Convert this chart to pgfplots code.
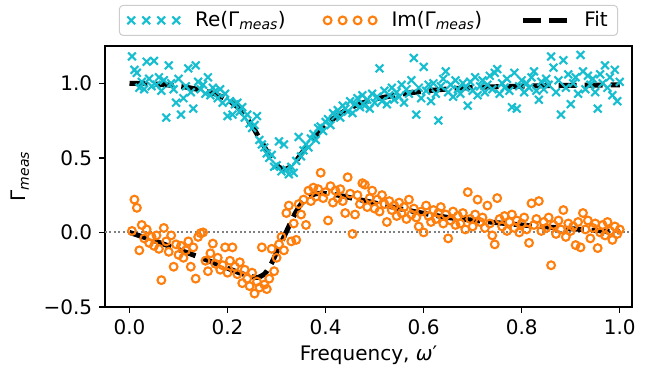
\documentclass[border=0pt]{standalone}
\usepackage{fontspec}
\setmainfont{DejaVu Sans}
\usepackage{pgfplots}
\usepackage{pgfplotstable}
\pgfplotsset{compat=1.18}
\definecolor{tabcyan}{HTML}{17BECF}
\definecolor{taborange}{HTML}{FF7F0E}

\pgfplotstableread{
x y
0.005 1.18
0.010 1.09
0.015 1.07
0.020 0.97
0.025 1.01
0.030 0.96
0.035 1.145
0.040 1.03
0.045 0.98
0.050 1.15
0.055 0.99
0.060 1.04
0.065 0.95
0.070 1.02
0.075 0.77
0.080 1.12
0.085 1.00
0.090 0.96
0.095 0.87
0.100 1.03
0.105 0.79
0.110 0.90
0.115 0.98
0.120 1.10
0.125 0.94
0.130 0.83
0.135 1.12
0.140 1.01
0.145 0.96
0.150 0.99
0.155 0.93
0.160 1.04
0.165 0.92
0.170 0.97
0.175 0.95
0.180 0.90
0.185 0.96
0.190 0.87
0.195 0.93
0.200 0.78
0.205 0.88
0.210 0.79
0.215 0.86
0.220 0.87
0.225 0.81
0.230 0.84
0.235 0.77
0.240 0.79
0.245 0.73
0.250 0.70
0.255 0.72
0.260 0.78
0.265 0.62
0.270 0.59
0.275 0.57
0.280 0.53
0.285 0.50
0.290 0.52
0.295 0.44
0.300 0.45
0.305 0.61
0.310 0.41
0.315 0.59
0.320 0.42
0.325 0.39
0.330 0.44
0.335 0.40
0.340 0.48
0.345 0.64
0.350 0.51
0.355 0.55
0.360 0.59
0.365 0.57
0.370 0.63
0.375 0.66
0.380 0.62
0.385 0.70
0.390 0.71
0.395 0.68
0.400 0.74
0.405 0.76
0.410 0.72
0.415 0.80
0.420 0.78
0.425 0.82
0.430 0.77
0.435 0.85
0.440 0.83
0.445 0.81
0.450 0.88
0.455 0.80
0.460 0.86
0.465 0.90
0.470 0.84
0.475 0.92
0.480 0.85
0.485 0.89
0.490 0.83
0.495 0.93
0.500 0.87
0.505 0.91
0.510 1.10
0.515 0.88
0.520 0.95
0.525 0.86
0.530 0.92
0.535 0.97
0.540 0.89
0.545 0.94
0.550 0.91
0.555 0.99
0.560 0.87
0.565 0.96
0.570 0.93
0.575 1.02
0.580 1.17
0.585 0.79
0.590 0.97
0.595 0.90
0.600 1.11
0.605 0.95
0.610 0.99
0.615 0.88
0.620 1.00
0.625 0.93
0.630 0.75
0.635 0.98
0.640 1.03
0.645 1.08
0.650 0.94
0.655 0.99
0.660 0.91
0.665 1.02
0.670 0.96
0.675 0.93
0.680 1.00
0.685 0.97
0.690 0.85
0.695 1.01
0.700 0.95
0.705 1.04
0.710 0.92
0.715 0.98
0.720 1.02
0.725 0.94
0.730 0.99
0.735 1.05
0.740 0.96
0.745 1.07
0.750 1.095
0.755 0.93
0.760 1.00
0.765 0.97
0.770 1.03
0.775 0.95
0.780 0.84
0.785 1.07
0.790 0.83
0.795 0.98
0.800 1.02
0.805 0.94
0.810 1.00
0.815 0.97
0.820 1.04
0.825 1.08
0.830 0.95
0.835 0.89
0.840 1.01
0.845 0.96
0.850 1.03
0.855 0.99
0.860 1.18
0.865 1.105
0.870 0.94
0.875 1.02
0.880 0.79
0.885 1.155
0.890 0.97
0.895 1.06
0.900 0.86
0.905 1.00
0.910 1.04
0.915 0.93
0.920 1.19
0.925 1.08
0.930 0.96
0.935 1.05
0.940 0.99
0.945 1.03
0.950 0.94
0.955 0.83
0.960 1.06
0.965 1.00
0.970 1.12
0.975 0.97
0.980 1.04
0.985 0.92
0.990 1.09
0.995 0.88
1.000 1.01
}\redata

\pgfplotstableread{
x y
0.005 0.01
0.010 0.22
0.015 0.165
0.020 -0.12
0.025 0.05
0.030 -0.04
0.035 0.02
0.040 -0.07
0.045 -0.03
0.050 -0.09
0.055 -0.02
0.060 -0.11
0.065 -0.32
0.070 0.03
0.075 -0.06
0.080 -0.13
0.085 -0.02
0.090 -0.23
0.095 -0.08
0.100 -0.15
0.105 -0.09
0.110 -0.17
0.115 -0.12
0.120 -0.06
0.125 -0.23
0.130 -0.10
0.135 -0.31
0.140 -0.03
0.145 -0.005
0.150 0.00
0.155 -0.19
0.160 -0.26
0.165 -0.14
0.170 -0.075
0.175 -0.21
0.180 -0.17
0.185 -0.25
0.190 -0.22
0.195 -0.10
0.200 -0.27
0.205 -0.19
0.210 -0.10
0.215 -0.23
0.220 -0.28
0.225 -0.20
0.230 -0.34
0.235 -0.25
0.240 -0.31
0.245 -0.36
0.250 -0.27
0.255 -0.41
0.260 -0.33
0.265 -0.37
0.270 -0.10
0.275 -0.35
0.280 -0.38
0.285 -0.31
0.290 -0.11
0.295 -0.26
0.300 -0.17
0.305 -0.08
0.310 -0.03
0.315 -0.12
0.320 0.13
0.325 0.18
0.330 -0.06
0.335 0.06
0.340 -0.05
0.345 0.19
0.350 0.12
0.355 0.22
0.360 0.05
0.365 0.28
0.370 0.21
0.375 0.30
0.380 0.24
0.385 0.29
0.390 0.40
0.395 0.23
0.400 0.27
0.405 0.08
0.410 0.31
0.415 0.20
0.420 0.28
0.425 0.23
0.430 0.29
0.435 0.21
0.440 0.13
0.445 0.37
0.450 0.26
0.455 -0.01
0.460 0.12
0.465 0.25
0.470 0.19
0.475 0.33
0.480 0.32
0.485 0.17
0.490 0.23
0.495 0.28
0.500 0.16
0.505 0.22
0.510 0.14
0.515 0.25
0.520 0.19
0.525 0.07
0.530 0.21
0.535 0.15
0.540 0.18
0.545 0.11
0.550 0.20
0.555 0.13
0.560 0.17
0.565 0.09
0.570 0.22
0.575 0.12
0.580 0.16
0.585 0.10
0.590 0.04
0.595 0.14
0.600 0.00
0.605 0.18
0.610 0.11
0.615 0.07
0.620 0.15
0.625 0.09
0.630 0.13
0.635 0.17
0.640 0.06
0.645 0.12
0.650 -0.04
0.655 0.08
0.660 0.14
0.665 0.05
0.670 0.11
0.675 0.06
0.680 0.13
0.685 0.02
0.690 0.27
0.695 0.09
0.700 0.04
0.705 0.12
0.710 0.22
0.715 0.07
0.720 0.10
0.725 0.03
0.730 0.18
0.735 0.06
0.740 -0.02
0.745 -0.08
0.750 0.23
0.755 0.09
0.760 0.04
0.765 0.11
0.770 0.01
0.775 0.07
0.780 0.12
0.785 0.03
0.790 0.08
0.795 0.00
0.800 0.06
0.805 0.10
0.810 0.02
0.815 -0.07
0.820 0.195
0.825 0.05
0.830 0.09
0.835 0.21
0.840 0.01
0.845 0.07
0.850 0.03
0.855 0.10
0.860 -0.22
0.865 0.05
0.870 -0.01
0.875 0.08
0.880 0.02
0.885 0.15
0.890 -0.03
0.895 0.06
0.900 0.01
0.905 0.04
0.910 -0.085
0.915 0.07
0.920 -0.10
0.925 0.13
0.930 0.02
0.935 0.08
0.940 -0.04
0.945 0.03
0.950 0.06
0.955 -0.105
0.960 0.00
0.965 0.05
0.970 -0.02
0.975 0.07
0.980 0.01
0.985 -0.05
0.990 0.04
0.995 -0.01
1.000 0.02
}\imdata

\pgfplotstableread{
x y
0.000 1.000
0.050 0.995
0.100 0.982
0.150 0.952
0.175 0.928
0.200 0.890
0.220 0.840
0.240 0.760
0.250 0.715
0.260 0.660
0.270 0.605
0.280 0.545
0.290 0.490
0.300 0.450
0.310 0.428
0.320 0.425
0.330 0.445
0.340 0.480
0.350 0.525
0.360 0.570
0.370 0.610
0.380 0.648
0.390 0.685
0.400 0.720
0.425 0.785
0.450 0.835
0.475 0.868
0.500 0.893
0.550 0.925
0.600 0.947
0.650 0.962
0.700 0.971
0.750 0.977
0.800 0.981
0.850 0.984
0.900 0.986
0.950 0.988
1.000 0.989
}\refit

\pgfplotstableread{
x y
0.000 0.000
0.050 -0.055
0.100 -0.115
0.150 -0.175
0.200 -0.240
0.225 -0.272
0.250 -0.297
0.262 -0.302
0.275 -0.280
0.280 -0.260
0.290 -0.205
0.300 -0.135
0.310 -0.065
0.320 0.005
0.330 0.075
0.340 0.140
0.350 0.190
0.360 0.225
0.370 0.248
0.380 0.259
0.390 0.263
0.400 0.261
0.425 0.250
0.450 0.233
0.500 0.198
0.550 0.160
0.600 0.128
0.650 0.100
0.700 0.082
0.750 0.065
0.800 0.050
0.850 0.037
0.900 0.025
0.950 0.013
1.000 0.003
}\imfit

\begin{document}
\fontsize{20bp}{24bp}\selectfont
\begin{tikzpicture}
\begin{axis}[
  scale only axis, width=527bp, height=261bp,
  xmin=-0.05, xmax=1.025, ymin=-0.5, ymax=1.25,
  xtick={0,0.2,0.4,0.6,0.8,1.0}, xticklabels={0.0,0.2,0.4,0.6,0.8,1.0},
  ytick={-0.5,0,0.5,1}, yticklabels={−0.5,0.0,0.5,1.0},
  tick align=outside, xtick pos=left, ytick pos=left,
  major tick length=6bp,
  axis line style={line width=1.5bp},
  tick style={line width=1.5bp, black},
  xlabel={Frequency, \textit{ω}′},
  ylabel={Γ\textsubscript{\itshape meas}},
  xlabel style={at={(axis description cs:0.5,-0.184)}, anchor=center},
  ylabel style={at={(axis description cs:-0.161,0.5)}, anchor=center},
  legend columns=3,
  legend cell align=left,
  legend style={at={(axis description cs:0.5,1)}, anchor=south, yshift=10bp,
    draw=black!20, rounded corners=4bp, line width=1bp, fill=white,
    inner xsep=8bp, inner ysep=4bp,
    /tikz/every odd column/.append style={column sep=13bp},
    /tikz/every even column/.append style={column sep=36bp}},
]
\addplot[gray, line width=2bp, dash pattern=on 2bp off 2.5bp, forget plot] coordinates {(-0.05,0) (1.025,0)};
\addplot[only marks, mark=x, color=tabcyan, mark size=5.5bp, line width=2.1bp,
  legend image code/.code={\draw[only marks] plot coordinates {(0bp,0bp) (15bp,0bp) (30bp,0bp) (45bp,0bp)};}]
  table[x=x,y=y]{\redata};
\addlegendentry{Re(Γ\textsubscript{\itshape meas})}
\addplot[only marks, mark=o, color=taborange, mark size=3.9bp, line width=2.1bp,
  legend image code/.code={\draw[only marks] plot coordinates {(0bp,0bp) (15bp,0bp) (30bp,0bp) (45bp,0bp)};}]
  table[x=x,y=y]{\imdata};
\addlegendentry{Im(Γ\textsubscript{\itshape meas})}
\addplot[black, line width=5bp, dash pattern=on 18bp off 8bp, smooth, tension=0.4,
  legend image code/.code={\draw (0bp,0bp) -- (44bp,0bp);}]
  table[x=x,y=y]{\refit};
\addlegendentry{Fit}
\addplot[black, line width=5bp, dash pattern=on 18bp off 8bp, smooth, tension=0.4, forget plot]
  table[x=x,y=y]{\imfit};
\end{axis}
\pgfresetboundingbox
\path ([shift={(-105bp,-74bp)}]current axis.south west) rectangle ([shift={(30bp,46bp)}]current axis.north east);
\end{tikzpicture}
\end{document}
